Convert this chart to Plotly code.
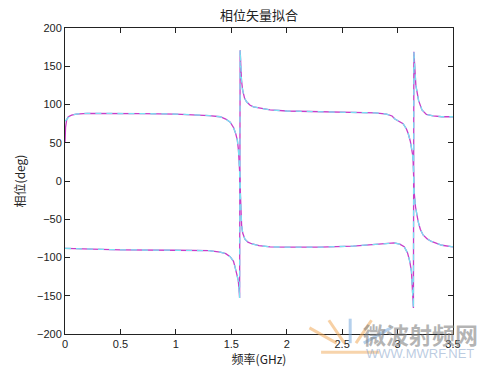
import plotly.graph_objects as go

# ---- data ----
# series A (starts near +90), measured (magenta)
a_x = [0, 0.005, 0.015, 0.03, 0.06, 0.1, 0.2, 0.4, 0.7, 1.0, 1.2, 1.3, 1.4, 1.45, 1.49,
       1.52, 1.54, 1.555, 1.565, 1.572, 1.578, 1.583, 1.587, 1.593, 1.603, 1.623, 1.65,
       1.683, 1.75, 1.85, 2.0, 2.3, 2.6, 2.8, 2.9, 2.97, 3.02, 3.06, 3.09, 3.11, 3.125,
       3.135, 3.14, 3.143, 3.147, 3.155, 3.165, 3.19, 3.22, 3.26, 3.32, 3.4, 3.5]
a_y = [50, 70, 80, 84, 86, 87.5, 88.5, 88.5, 88, 87.5, 86.5, 85.5, 84, 81, 77,
       70, 62, 53, 40, 25, 5, -20, -40, -58, -68, -76, -80,
       -82, -84.5, -86, -86.5, -86.5, -85, -83, -81.5, -81, -82.5, -86, -94, -105, -118,
       -138, -150, -166, 169, 140, 125, 105, 93, 87, 85, 84, 84]

# series B (starts near -90), measured (magenta)
b_x = [0, 0.2, 0.5, 1.0, 1.3, 1.4, 1.45, 1.49, 1.52, 1.533, 1.55, 1.563, 1.57, 1.575,
       1.58, 1.585, 1.592, 1.602, 1.62, 1.638, 1.67, 1.70, 1.78, 1.85, 2.0, 2.3, 2.6,
       2.8, 2.9, 2.95, 2.976, 3.02, 3.05, 3.08, 3.096, 3.115, 3.126, 3.135, 3.14, 3.145,
       3.15, 3.162, 3.175, 3.186, 3.205, 3.23, 3.27, 3.306, 3.4, 3.5]
b_y = [-88, -89, -90, -90.5, -91, -93, -95, -99, -105, -112, -121, -130, -142, -153,
       171, 150, 132, 119, 108, 103.5, 99, 97, 94.5, 93, 91.5, 90.5, 90,
       89, 87.5, 85, 81, 78, 75, 68, 62, 52, 45, 35, 27, 5,
       -15, -34, -45, -53, -63, -70.5, -76, -79, -84, -86]

# fitted curves (cyan dashed): same as measured except near f = 0 on series A
fit_a_x = [0, 0.03, 0.07, 0.15] + a_x[6:]
fit_a_y = [78, 83, 86.5, 88.5] + a_y[6:]
fit_b_x = b_x
fit_b_y = b_y

x_ticks = [0, 0.5, 1, 1.5, 2, 2.5, 3, 3.5]
x_tick_text = ["0", "0.5", "1", "1.5", "2", "2.5", "3", "3.5"]
y_ticks = [-200, -150, -100, -50, 0, 50, 100, 150, 200]

MAG = "#C83CC8"
CYAN = "#78E2F2"
CJK = "Noto Sans CJK SC"
LAT = "Liberation Sans"

fig = go.Figure()
for xs, ys in [(a_x, a_y), (b_x, b_y)]:
    fig.add_trace(go.Scatter(x=xs, y=ys, mode="lines",
                             line=dict(color=MAG, width=1.3), showlegend=False))
for xs, ys in [(fit_a_x, fit_a_y), (fit_b_x, fit_b_y)]:
    fig.add_trace(go.Scatter(x=xs, y=ys, mode="lines",
                             line=dict(color=CYAN, width=1.3, dash="6px,5px"),
                             showlegend=False))

axis_common = dict(showgrid=False, zeroline=False, showline=True, linecolor="#222",
                   linewidth=1, mirror="ticks", ticks="inside", ticklen=5,
                   tickcolor="#222", tickfont=dict(family=LAT, size=11, color="#222"))

fig.update_xaxes(range=[0, 3.5], tickvals=x_ticks, ticktext=x_tick_text,
                 title=dict(text="频率(GHz)", font=dict(family=CJK, size=12, color="#222"),
                            standoff=2),
                 **axis_common)
fig.update_yaxes(range=[-200, 200], tickvals=y_ticks,
                 title=dict(text="相位(deg)", font=dict(family=CJK, size=12, color="#222"),
                            standoff=8),
                 **axis_common)

fig.update_layout(
    width=500, height=375,
    margin=dict(l=65, r=47, t=28, b=41),
    paper_bgcolor="white", plot_bgcolor="white",
    title=dict(text="相位矢量拟合", x=0.518, xanchor="center", y=0.96, yanchor="middle",
               font=dict(family=CJK, size=13, color="#222")),
)

# watermark
fig.add_annotation(text="<b>微波射频网</b>", xref="paper", yref="paper",
                   x=0.915, y=0.0, xanchor="center", yanchor="middle", showarrow=False,
                   font=dict(family=CJK, size=23, color="rgba(130,130,130,0.6)"))
fig.add_annotation(text="WWW.MWRF.NET", xref="paper", yref="paper",
                   x=0.915, y=-0.063, xanchor="center", yanchor="middle", showarrow=False,
                   font=dict(family=LAT, size=13, color="rgba(130,160,200,0.55)"))
fan = [(0.70, -0.03, 0.63, 0.02, "rgba(240,170,90,0.55)"),
       (0.72, -0.03, 0.68, 0.045, "rgba(240,170,90,0.55)"),
       (0.735, -0.03, 0.735, 0.05, "rgba(120,170,220,0.55)"),
       (0.75, -0.03, 0.79, 0.045, "rgba(240,170,90,0.55)"),
       (0.77, -0.03, 0.84, 0.02, "rgba(120,170,220,0.55)"),
       (0.66, -0.06, 0.81, -0.06, "rgba(240,170,90,0.5)")]
for x0, y0, x1, y1, c in fan:
    fig.add_shape(type="line", xref="paper", yref="paper", x0=x0, y0=y0, x1=x1, y1=y1,
                  line=dict(color=c, width=3))

fig.write_html("out.html")
